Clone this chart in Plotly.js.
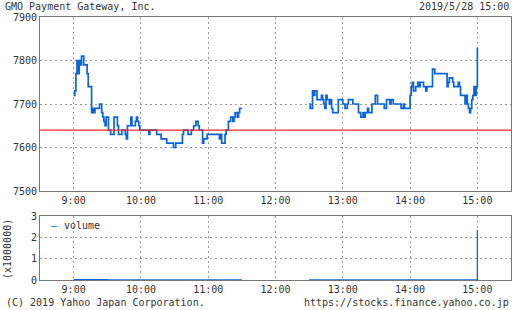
<!DOCTYPE html>
<html>
<head>
<meta charset="utf-8">
<script src="https://cdn.plot.ly/plotly-3.0.1.min.js"></script>
<style>html,body{margin:0;padding:0;background:#fff;}#chart{width:512px;height:310px;}</style>
</head>
<body>
<div id="chart"></div>
<script>
// ---- data ----
const day = '2019-05-28 ';
const prevClose = 7640;
const amTimes = ['09:00','09:01','09:02','09:03','09:04','09:05','09:06','09:07','09:09','09:12','09:13','09:16','09:17','09:18','09:19','09:23','09:25','09:26','09:27','09:28','09:29','09:31','09:33','09:36','09:39','09:40','09:43','09:46','09:47','09:48','09:51','09:52','09:55','09:56','09:57','09:58','09:59','10:07','10:08','10:14','10:18','10:23','10:29','10:31','10:37','10:38','10:42','10:45','10:47','10:49','10:51','10:52','10:55','10:56','10:59','11:10','11:11','11:12','11:15','11:16','11:18','11:20','11:22','11:23','11:24','11:26','11:27','11:28','11:30'];
const amPrices = [7720,7730,7770,7800,7770,7800,7790,7810,7790,7770,7740,7680,7690,7680,7690,7700,7680,7670,7660,7650,7670,7640,7630,7670,7650,7630,7640,7630,7620,7650,7670,7650,7660,7670,7660,7650,7640,7630,7640,7630,7620,7610,7600,7610,7630,7640,7630,7640,7650,7660,7650,7640,7610,7620,7630,7620,7630,7610,7630,7640,7660,7670,7660,7670,7680,7670,7680,7690,7690];
const pmTimes = ['12:30','12:31','12:33','12:34','12:35','12:37','12:41','12:42','12:43','12:44','12:45','12:46','12:48','12:49','12:50','12:51','12:56','13:00','13:02','13:04','13:05','13:09','13:14','13:16','13:18','13:19','13:20','13:22','13:23','13:26','13:29','13:31','13:37','13:39','13:42','13:43','13:45','13:52','13:54','13:55','14:00','14:01','14:02','14:03','14:05','14:07','14:08','14:09','14:12','14:14','14:15','14:20','14:22','14:33','14:34','14:35','14:38','14:39','14:43','14:44','14:45','14:49','14:50','14:51','14:52','14:53','14:54','14:55','14:56','14:57','14:58','14:59','15:00'];
const pmPrices = [7700,7690,7730,7720,7730,7710,7720,7710,7700,7690,7720,7710,7700,7710,7690,7680,7710,7700,7690,7700,7710,7700,7680,7670,7680,7670,7680,7690,7680,7700,7720,7700,7690,7710,7700,7710,7700,7690,7700,7690,7720,7740,7750,7730,7740,7750,7740,7750,7740,7730,7740,7780,7770,7740,7750,7760,7750,7740,7750,7740,7720,7700,7720,7700,7690,7680,7690,7710,7720,7740,7720,7740,7830];
// volume in units of 1,000,000 shares
const volTimes = ['09:00','09:30','10:00','10:30','11:00','11:30','12:00','12:30','13:00','13:30','14:00','14:30','14:59','15:00'];
const volValues = [0.02,0.01,0.01,0.01,0.01,0.01,null,0.01,0.01,0.01,0.01,0.01,0.01,2.34];
const hourTicks = ['09:00','10:00','11:00','12:00','13:00','14:00','15:00'];
const hourLabels = ['9:00','10:00','11:00','12:00','13:00','14:00','15:00'];
const halfTicks = ['08:30','09:30','10:30','11:30','12:30','13:30','14:30','15:30'];
const titleText = 'GMO Payment Gateway, Inc.';
const dateText = '2019/5/28 15:00';
const copyText = '(C) 2019 Yahoo Japan Corporation.';
const urlText = 'https://stocks.finance.yahoo.co.jp';

// ---- build ----
const T = a => a.map(t => day + t);
const blue = '#0a64dc';
const font = {family: 'DejaVu Sans Mono, monospace', size: 10, color: '#333'};
const traces = [
  {x: T(amTimes), y: amPrices, type: 'scatter', mode: 'lines', line: {color: blue, width: 1.7, shape: 'hv'}, xaxis: 'x', yaxis: 'y', showlegend: false, hoverinfo: 'skip'},
  {x: T(pmTimes), y: pmPrices, type: 'scatter', mode: 'lines', line: {color: blue, width: 1.7, shape: 'hv'}, xaxis: 'x', yaxis: 'y', showlegend: false, hoverinfo: 'skip'},
  {x: T(volTimes), y: volValues, type: 'scatter', mode: 'lines', connectgaps: false, cliponaxis: false, line: {color: blue, width: 1.3, shape: 'hv'}, xaxis: 'x2', yaxis: 'y2', showlegend: false, hoverinfo: 'skip'}
];
const xr = [day + '08:30', day + '15:30'];
const axBase = {showline: true, linecolor: '#777', linewidth: 1, mirror: true, showgrid: true, gridcolor: '#999', griddash: '2px,3px', gridwidth: 1, zeroline: false, ticks: '', tickfont: font, fixedrange: true, layer: 'below traces'};
const W = 471, H = 263, L = 40, TOP = 17;
const px = v => (v - L) / W;
const py = v => (TOP + H - v) / H;
const layout = {
  width: 512, height: 310,
  margin: {l: L, r: 1, t: TOP, b: 30},
  paper_bgcolor: '#fff', plot_bgcolor: '#fff',
  font: font,
  showlegend: false,
  xaxis: Object.assign({}, axBase, {type: 'date', range: xr, domain: [0, 1], anchor: 'y', tickvals: T(hourTicks), ticktext: hourLabels}),
  yaxis: Object.assign({}, axBase, {range: [7500, 7900], dtick: 100, tick0: 7500, domain: [py(191), 1], anchor: 'x'}),
  xaxis2: Object.assign({}, axBase, {type: 'date', range: xr, domain: [0, 1], anchor: 'y2', tickvals: T(hourTicks), ticktext: hourLabels}),
  yaxis2: Object.assign({}, axBase, {range: [0, 3], dtick: 1, tick0: 0, domain: [0, py(216)], anchor: 'x2'}),
  xaxis3: {type: 'date', range: xr, overlaying: 'x', side: 'top', anchor: 'y', tickvals: T(halfTicks), ticks: 'inside', ticklen: 3, tickcolor: '#777', showticklabels: false, showgrid: false, showline: false, zeroline: false, fixedrange: true},
  shapes: [
    {type: 'line', xref: 'paper', x0: 0, x1: 1, yref: 'y', y0: prevClose, y1: prevClose, line: {color: '#ee2a2a', width: 1.2}}
  ],
  annotations: [
    {text: titleText, xref: 'paper', yref: 'paper', x: px(3), y: py(7), xanchor: 'left', yanchor: 'middle', showarrow: false, font: font},
    {text: dateText, xref: 'paper', yref: 'paper', x: px(511), y: py(7), xanchor: 'right', yanchor: 'middle', showarrow: false, font: font},
    {text: copyText, xref: 'paper', yref: 'paper', x: px(4), y: py(302), xanchor: 'left', yanchor: 'middle', showarrow: false, font: font},
    {text: urlText, xref: 'paper', yref: 'paper', x: px(511), y: py(302), xanchor: 'right', yanchor: 'middle', showarrow: false, font: font},
    {text: '(x1000000)', xref: 'paper', yref: 'paper', x: px(7), y: py(249), xanchor: 'center', yanchor: 'middle', textangle: -90, showarrow: false, font: font},
    {text: '–', xref: 'paper', yref: 'paper', x: px(54), y: py(225), xanchor: 'center', yanchor: 'middle', showarrow: false, font: {family: font.family, size: 10, color: blue}},
    {text: 'volume', xref: 'paper', yref: 'paper', x: px(62), y: py(225), xanchor: 'left', yanchor: 'middle', showarrow: false, font: font}
  ]
};
Plotly.newPlot('chart', traces, layout, {staticPlot: true, displayModeBar: false});
</script>
</body>
</html>
